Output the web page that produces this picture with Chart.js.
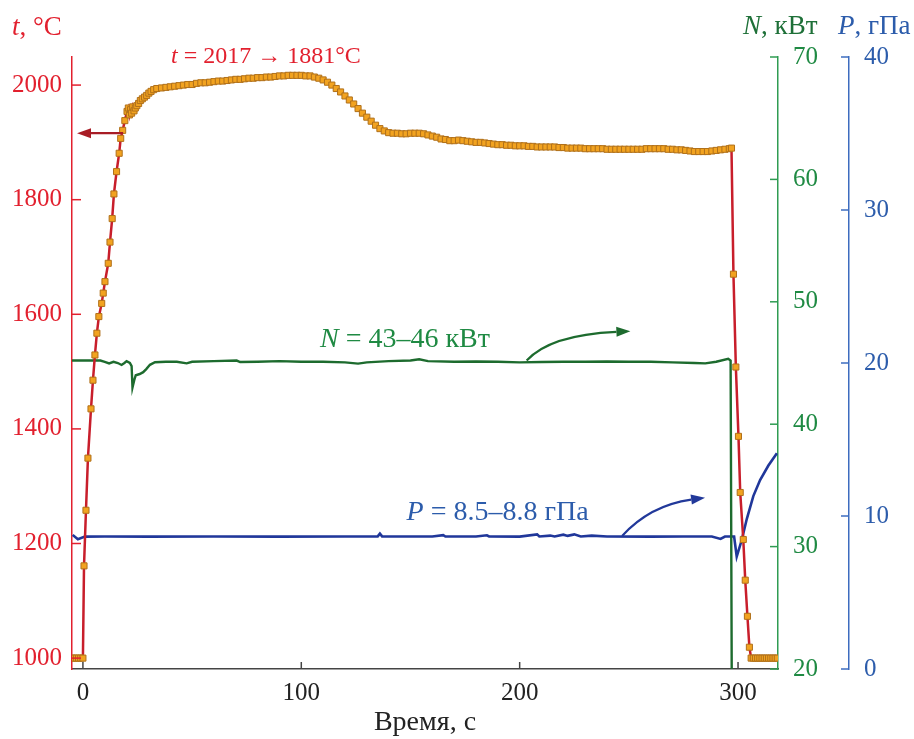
<!DOCTYPE html>
<html>
<head>
<meta charset="utf-8">
<script src="https://cdn.jsdelivr.net/npm/chart.js@4.4.1/dist/chart.umd.min.js"></script>
<style>
  html, body { margin: 0; padding: 0; background: #fff; }
  canvas { display: block; }
</style>
</head>
<body>
<canvas id="chart" width="914" height="739"></canvas>
<script>
"use strict";
// Synthesis run: temperature t (left), heater power N and pressure P (two right axes) vs time.

// --- temperature, °C (red line, orange markers)
const timeT = [-5, -4, -3, -2, -1, 0, 0.5, 1.4, 2.3, 3.7, 4.6, 5.5, 6.4, 7.3, 8.6, 9.3, 10.1, 11.6, 12.4, 13.4, 14.2, 15.4, 16.6, 17.3, 18.2, 19.2, 20.2,
  20.8, 21.3, 21.8, 22.3, 22.8, 23.4, 24.0, 24.7, 25.5, 26.3, 27.2, 28.2, 29.2, 30.2, 31.2, 32.4, 33.8,
  36, 38, 40, 42, 44, 46, 48, 50, 52, 54, 56, 58, 60, 62, 64, 66, 68, 70, 72, 74, 76, 78, 80, 82, 84, 86, 88, 90, 92, 94, 96, 98, 100,
  102, 104, 106, 108, 110, 112, 114, 116, 118, 120, 122, 124, 126, 128, 130, 132, 134, 136, 138, 140, 142, 144, 146, 148, 150,
  152, 154, 156, 158, 160, 162, 164, 166, 168, 170, 172, 174, 176, 178, 180, 182, 184, 186, 188, 190, 192, 194, 196, 198, 200,
  202, 204, 206, 208, 210, 212, 214, 216, 218, 220, 222, 224, 226, 228, 230, 232, 234, 236, 238, 240, 242, 244, 246, 248, 250,
  252, 254, 256, 258, 260, 262, 264, 266, 268, 270, 272, 274, 276, 278, 280, 282, 284, 286, 288, 290, 292, 294, 296, 297,
  297.9, 299, 300.2, 301, 302.4, 303.3, 304.3, 305.2, 306, 307, 308, 309, 310, 311, 312, 313, 314, 315, 316, 317, 318];
const tempT = [1000, 1000, 1000, 1000, 1000, 1000, 1161, 1258, 1349, 1435, 1485, 1529, 1567, 1596, 1619, 1637, 1657, 1689, 1726, 1767, 1810, 1849, 1881, 1907, 1921, 1938, 1954,
  1960, 1948, 1957, 1951, 1962, 1955, 1960, 1964, 1968, 1973, 1976, 1979, 1982, 1986, 1989, 1992, 1994,
  1995, 1996, 1997, 1998, 1999, 2000, 2001, 2001, 2003, 2004, 2004, 2005, 2006, 2007, 2007, 2008, 2009, 2010, 2010, 2011, 2012, 2012, 2013, 2013, 2014, 2014, 2015, 2016, 2016, 2017, 2017, 2017, 2017,
  2016, 2016, 2014, 2012, 2009, 2005, 2000, 1994, 1988, 1981, 1974, 1967, 1959, 1951, 1944, 1937, 1930, 1924, 1920, 1917, 1916, 1916, 1915, 1915, 1916,
  1916, 1916, 1915, 1913, 1911, 1909, 1906, 1905, 1903, 1903, 1904, 1903, 1902, 1901, 1900, 1900, 1899, 1898, 1897, 1896, 1896, 1895, 1895, 1894, 1894,
  1894, 1893, 1893, 1892, 1892, 1892, 1892, 1892, 1891, 1891, 1890, 1890, 1890, 1890, 1889, 1889, 1889, 1889, 1889, 1888, 1888, 1888, 1888, 1888, 1888,
  1888, 1888, 1888, 1889, 1889, 1889, 1889, 1889, 1888, 1888, 1887, 1887, 1886, 1885, 1884, 1884, 1884, 1884, 1885, 1886, 1887, 1888, 1889, 1890,
  1670, 1508, 1387, 1289, 1207, 1136, 1073, 1019, 1000, 1000, 1000, 1000, 1000, 1000, 1000, 1000, 1000, 1000, 1000, 1000, 1000];

// --- power N, кВт (green line)
const timeN = [-5, 0, 5, 8, 10, 12, 14, 16, 17.7, 19, 20, 21.5, 22.3, 22.7, 23.5, 24.2, 26, 27.6, 29, 30.7, 33, 38, 43, 47.5, 50, 60, 70.4, 72, 80, 90,
  100, 110, 120, 126, 130, 140, 150, 154, 158, 170, 180, 190, 200, 210, 220, 230, 240, 250, 260, 270, 280, 285, 290, 295.5, 296.6, 297.1];
const powerN = [45.2, 45.2, 45.2, 45.2, 45.1, 44.97, 45.1, 45.0, 44.84, 45.0, 45.15, 45.0, 44.75, 43.0, 43.6, 44.0, 44.1, 44.25, 44.5, 44.85, 45.06, 45.1, 45.1, 44.97, 45.1, 45.15, 45.2, 45.08, 45.1, 45.15,
  45.1, 45.1, 45.05, 44.95, 45.05, 45.15, 45.2, 45.3, 45.15, 45.1, 45.12, 45.1, 45.05, 45.08, 45.1, 45.1, 45.12, 45.1, 45.1, 45.05, 45.0, 44.97, 45.1, 45.35, 45.2, 20];

// --- pressure P, гПа (blue line)
const timeP = [-4.7, -2.3, 0.9, 10, 30, 60, 90, 120, 135, 136, 137, 160, 165, 166, 180, 185, 186, 200, 208, 209, 214, 216, 220, 222, 225, 228, 233, 240,
  260, 275, 288, 292, 294, 298.2, 299.4, 301.7, 304, 307, 310.1, 313.9, 317.8];
const pressP = [8.76, 8.48, 8.65, 8.66, 8.65, 8.66, 8.65, 8.66, 8.67, 8.85, 8.67, 8.66, 8.75, 8.66, 8.66, 8.74, 8.66, 8.65, 8.8, 8.66, 8.72, 8.66, 8.78, 8.7, 8.8, 8.66, 8.72, 8.66,
  8.65, 8.66, 8.66, 8.5, 8.66, 8.66, 7.35, 8.43, 9.8, 11.3, 12.35, 13.3, 14.1];

// --- tick labels
const xTicks = [0, 100, 200, 300];
const tTicks = [1000, 1200, 1400, 1600, 1800, 2000];
const nTicks = [20, 30, 40, 50, 60, 70];
const pTicks = [0, 10, 20, 30, 40];

const FONT = "'Liberation Serif', 'Times New Roman', serif";
const RED = "#e2202e", GREEN = "#1f8a43", BLUE = "#2c5cab", INK = "#222";

const pairs = (xs, ys) => xs.map((x, i) => ({ x, y: ys[i] }));
const fixTicks = (vals) => (sc) => { sc.ticks = vals.map(v => ({ value: v })); };

// text with an italic variable letter in front
function rich(ctx, parts, x, y, align, color, size) {
  ctx.save();
  ctx.fillStyle = color; ctx.textBaseline = "middle"; ctx.textAlign = "left";
  const fonts = parts.map(p => (p[1] ? "italic " : "") + size + "px " + FONT);
  let w = 0;
  parts.forEach((p, i) => { ctx.font = fonts[i]; w += ctx.measureText(p[0]).width; });
  let cx = align === "center" ? x - w / 2 : x;
  parts.forEach((p, i) => { ctx.font = fonts[i]; ctx.fillText(p[0], cx, y); cx += ctx.measureText(p[0]).width; });
  ctx.restore();
}

function arrow(ctx, p0, p1, p2, color) {
  const ang = Math.atan2(p2.y - p1.y, p2.x - p1.x), hl = 14, hw = 5;
  const bx = p2.x - hl * Math.cos(ang), by = p2.y - hl * Math.sin(ang);
  ctx.save();
  ctx.strokeStyle = color; ctx.fillStyle = color; ctx.lineWidth = 2.2;
  ctx.beginPath(); ctx.moveTo(p0.x, p0.y); ctx.quadraticCurveTo(p1.x, p1.y, bx, by); ctx.stroke();
  ctx.beginPath(); ctx.moveTo(p2.x, p2.y);
  ctx.lineTo(bx + hw * Math.sin(ang), by - hw * Math.cos(ang));
  ctx.lineTo(bx - hw * Math.sin(ang), by + hw * Math.cos(ang));
  ctx.closePath(); ctx.fill();
  ctx.restore();
}

// annotation anchors in data units (axis id, x, y)
const notes = [
  { axis: "y", x: 83.8, y: 2049, size: 24, color: RED, parts: [["t", 1], [" = 2017 → 1881°C", 0]] },
  { axis: "yN", x: 147.5, y: 46.88, size: 28, color: GREEN, parts: [["N", 1], [" = 43–46 кВт", 0]] },
  { axis: "yP", x: 189.9, y: 10.2, size: 28, color: BLUE, parts: [["P", 1], [" = 8.5–8.8 гПа", 0]] }
];
const arrows = [
  { axis: "y", color: "#a81c25", pts: [[18.4, 1916], [8, 1916], [-2.7, 1916]] },
  { axis: "yN", color: "#1d6b2e", pts: [[203.2, 45.2], [213.9, 47.3], [250.7, 47.6]] },
  { axis: "yP", color: "#22399a", pts: [[246.9, 8.7], [259.7, 10.7], [284.9, 11.2]] }
];

const decor = {
  id: "decor",
  afterDraw(chart) {
    const ctx = chart.ctx, s = chart.scales, a = chart.chartArea;
    // inward tick marks
    ctx.save(); ctx.lineWidth = 1.5;
    const vt = (sc, x0, x1, color) => {
      ctx.strokeStyle = color;
      sc.ticks.forEach(t => { const y = sc.getPixelForValue(t.value); ctx.beginPath(); ctx.moveTo(x0, y); ctx.lineTo(x1, y); ctx.stroke(); });
    };
    vt(s.y, s.y.right, s.y.right + 9, RED);
    vt(s.yN, s.yN.left - 8, s.yN.left, "#2f9c52");
    vt(s.yP, s.yP.left - 8, s.yP.left, "#3d6cbf");
    ctx.strokeStyle = "#444";
    s.x.ticks.forEach(t => { const x = s.x.getPixelForValue(t.value); ctx.beginPath(); ctx.moveTo(x, a.bottom); ctx.lineTo(x, a.bottom - 7); ctx.stroke(); });
    ctx.restore();
    // axis titles
    rich(ctx, [["t", 1], [", °C", 0]], s.y.left + 12, a.top - 29, "left", RED, 27);
    rich(ctx, [["N", 1], [", кВт", 0]], s.yN.left - 35, a.top - 30, "left", "#1e7038", 27);
    rich(ctx, [["P", 1], [", гПа", 0]], s.yP.left - 11, a.top - 30, "left", BLUE, 27);
    ctx.save();
    ctx.font = "28px " + FONT; ctx.fillStyle = INK; ctx.textAlign = "center"; ctx.textBaseline = "middle";
    ctx.fillText("Время, с", (a.left + a.right) / 2, 723);
    ctx.restore();
    // annotations
    notes.forEach(n => rich(ctx, n.parts, s.x.getPixelForValue(n.x), s[n.axis].getPixelForValue(n.y), "center", n.color, n.size));
    arrows.forEach(r => {
      const p = r.pts.map(q => ({ x: s.x.getPixelForValue(q[0]), y: s[r.axis].getPixelForValue(q[1]) }));
      arrow(ctx, p[0], p[1], p[2], r.color);
    });
  }
};

const tickFont = { family: FONT, size: 25 };

new Chart(document.getElementById("chart"), {
  type: "line",
  data: {
    datasets: [
      { data: pairs(timeT, tempT), yAxisID: "y", borderColor: "#c81e2b", borderWidth: 2.5,
        pointStyle: "rect", pointRadius: 4.3, pointBackgroundColor: "#f2a320", pointBorderColor: "#b0701a", pointBorderWidth: 1 },
      { data: pairs(timeN, powerN), yAxisID: "yN", borderColor: "#1d6b2e", borderWidth: 2.4, pointRadius: 0 },
      { data: pairs(timeP, pressP), yAxisID: "yP", borderColor: "#20379a", borderWidth: 2.6, pointRadius: 0 }
    ]
  },
  options: {
    responsive: false, animation: false,
    layout: { padding: { top: 57, left: 0, right: 0, bottom: 0 } },
    plugins: { legend: { display: false }, tooltip: { enabled: false } },
    scales: {
      x: { type: "linear", min: -5, max: 318.3, afterBuildTicks: fixTicks(xTicks),
        afterFit: (sc) => { sc.height = 70; },
        grid: { drawOnChartArea: false, drawTicks: false },
        border: { color: "#444", width: 1.5 },
        ticks: { color: INK, font: tickFont, padding: 9, maxRotation: 0, callback: (v) => String(v) } },
      y: { position: "left", min: 981, max: 2049, afterBuildTicks: fixTicks(tTicks),
        afterFit: (sc) => { sc.width = 72; },
        grid: { drawOnChartArea: false, drawTicks: false },
        border: { color: RED, width: 1.5 },
        ticks: { color: RED, font: tickFont, padding: 10, callback: (v) => String(v) } },
      yN: { position: "right", weight: 1, min: 20, max: 70, afterBuildTicks: fixTicks(nTicks),
        afterFit: (sc) => { sc.width = 71; },
        grid: { drawOnChartArea: false, drawTicks: false },
        border: { color: "#2f9c52", width: 1.5 },
        ticks: { color: GREEN, font: tickFont, padding: 15, callback: (v) => String(v) } },
      yP: { position: "right", weight: 2, min: 0, max: 40, afterBuildTicks: fixTicks(pTicks),
        afterFit: (sc) => { sc.width = 65; },
        grid: { drawOnChartArea: false, drawTicks: false },
        border: { color: "#3d6cbf", width: 1.5 },
        ticks: { color: BLUE, font: tickFont, padding: 15, callback: (v) => String(v) } }
    }
  },
  plugins: [decor]
});
</script>
</body>
</html>
